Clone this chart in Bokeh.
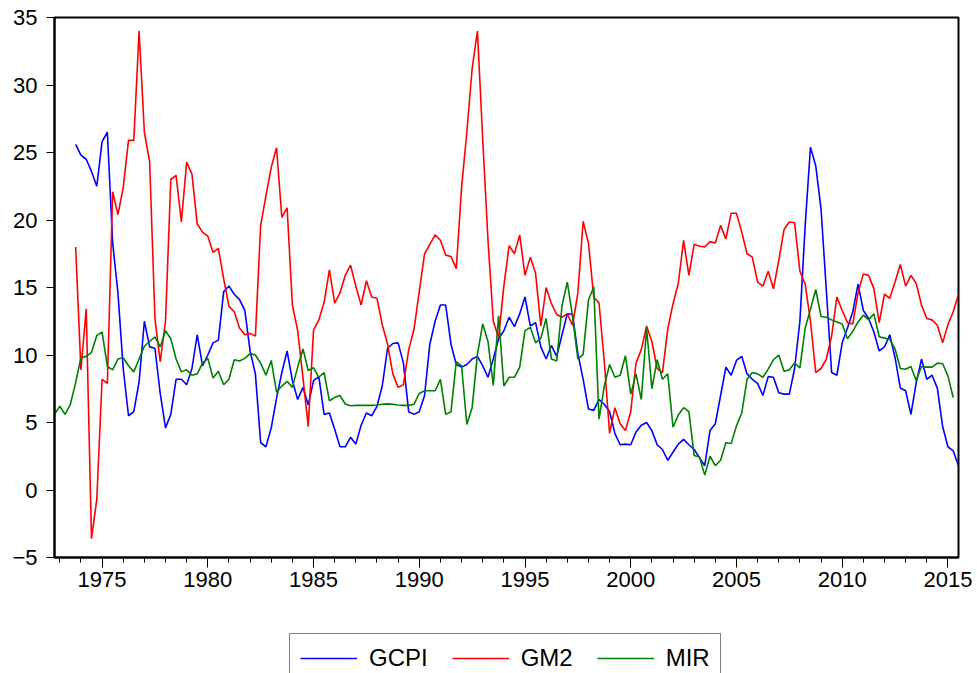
import pandas as pd
from bokeh.plotting import figure
from bokeh.layouts import column
from bokeh.models import Range1d, FixedTicker, Legend, LegendItem, ColumnDataSource
from bokeh.embed import file_html
from bokeh.resources import INLINE

# Quarterly observations, 1972Q4 .. 2015Q3
periods = pd.period_range("1972Q4", "2015Q3", freq="Q")
year_pos = [p.year + (p.quarter - 1) / 4 for p in periods]

# GCPI: 1973Q4 .. 2015Q3
gcpi = [
    25.6, 24.8, 24.5, 23.6, 22.5, 25.8, 26.5, 18.3, 14.6, 9.0,
    5.5, 5.8, 8.0, 12.5, 10.6, 10.5, 7.15, 4.6, 5.6, 8.2,
    8.2, 7.8, 9.0, 11.5, 9.2, 10.0, 10.9, 11.1, 14.7, 15.1,
    14.5, 14.1, 13.3, 10.3, 8.6, 3.5, 3.2, 4.6, 6.8, 8.7,
    10.3, 8.1, 6.7, 7.6, 6.3, 8.1, 8.4, 5.6, 5.7, 4.5,
    3.2, 3.2, 3.9, 3.4, 4.8, 5.7, 5.5, 6.2, 7.7, 10.5,
    10.85, 10.9, 9.4, 5.8, 5.6, 5.8, 7.0, 10.8, 12.5, 13.7,
    13.7, 10.8, 9.3, 9.1, 9.3, 9.7, 9.9, 9.2, 8.35, 9.7,
    11.2, 11.8, 12.8, 12.1, 13.05, 14.3, 12.15, 12.4, 10.6, 9.7,
    10.7, 9.9, 11.5, 13.05, 13.0, 10.1, 8.2, 6.0, 5.9, 6.7,
    6.35, 5.8, 4.2, 3.35, 3.4, 3.35, 4.3, 4.8, 5.0, 4.4,
    3.35, 3.0, 2.2, 2.8, 3.4, 3.75, 3.35, 3.0, 2.4, 1.8,
    4.4, 4.9, 7.0, 9.1, 8.5, 9.6, 9.9, 8.6, 8.2, 7.9,
    7.0, 8.4, 8.35, 7.2, 7.1, 7.1, 9.0, 12.5, 19.6, 25.4,
    24.0, 20.8, 14.8, 8.7, 8.5, 10.9, 12.0, 13.2, 15.25, 13.3,
    12.7, 11.7, 10.3, 10.6, 11.5, 9.8, 7.55, 7.35, 5.6, 7.95,
    9.7, 8.2, 8.5, 7.55, 4.7, 3.2, 2.9, 1.8,
]

# GM2: 1973Q4 .. 2015Q3
gm2 = [
    18.0, 8.9, 13.4, -3.6, -0.7, 8.2, 7.9, 22.1, 20.4, 22.4,
    25.9, 25.9, 34.0, 26.5, 24.3, 12.7, 9.5, 12.5, 23.0, 23.3,
    19.85, 24.3, 23.4, 19.7, 19.1, 18.8, 17.6, 17.9, 15.65, 13.6,
    13.2, 12.0, 11.5, 11.6, 11.4, 19.6, 21.8, 23.9, 25.35, 20.2,
    20.9, 13.7, 11.8, 8.3, 4.7, 11.85, 12.6, 13.9, 16.3, 13.85,
    14.6, 15.9, 16.65, 15.1, 13.7, 15.5, 14.3, 14.2, 12.25, 10.8,
    8.6, 7.6, 7.8, 10.4, 11.9, 14.7, 17.5, 18.2, 18.9, 18.5,
    17.4, 17.3, 16.4, 22.4, 26.5, 31.2, 34.0, 26.0, 18.5, 12.5,
    11.3, 15.1, 18.1, 17.5, 18.9, 15.9, 17.25, 16.05, 12.15, 15.0,
    13.8, 13.0, 12.8, 13.05, 12.2, 14.6, 19.9, 18.3, 14.3, 13.85,
    9.5, 4.2, 6.1, 4.9, 4.4, 5.8, 9.4, 10.4, 12.15, 11.0,
    9.0, 8.7, 11.9, 13.8, 15.3, 18.5, 15.9, 18.2, 18.05, 18.0,
    18.4, 18.3, 19.6, 18.6, 20.5, 20.5, 19.1, 17.5, 17.25, 15.4,
    15.1, 16.2, 14.9, 17.0, 19.3, 19.85, 19.8, 16.2, 15.25, 12.5,
    8.7, 9.0, 9.7, 11.4, 14.3, 13.3, 12.4, 12.3, 14.6, 16.0,
    15.9, 14.9, 12.4, 14.5, 14.2, 15.4, 16.7, 15.1, 15.9, 15.3,
    13.7, 12.7, 12.6, 12.2, 10.9, 12.25, 13.2, 14.5,
]

# MIR: 1972Q4 .. 2015Q2
mir = [
    5.6, 6.2, 5.6, 6.35, 7.95, 9.8, 9.9, 10.2, 11.45, 11.7,
    9.15, 8.9, 9.7, 9.8, 9.2, 8.75, 9.7, 10.65, 11.0, 11.35,
    10.6, 11.8, 11.2, 9.7, 8.75, 8.9, 8.5, 8.6, 9.4, 9.75,
    8.3, 8.8, 7.8, 8.2, 9.65, 9.55, 9.75, 10.1, 10.0, 9.4,
    8.5, 9.6, 7.25, 7.7, 8.05, 7.6, 9.1, 10.45, 8.85, 9.05,
    8.35, 8.7, 6.6, 6.85, 7.0, 6.37, 6.24, 6.27, 6.27, 6.27,
    6.27, 6.3, 6.35, 6.38, 6.35, 6.3, 6.27, 6.27, 6.35, 7.15,
    7.35, 7.35, 7.35, 8.2, 5.6, 5.8, 9.5, 9.2, 4.85, 6.1,
    10.05, 12.3, 11.0, 7.75, 12.9, 7.7, 8.35, 8.35, 9.1, 11.8,
    12.05, 10.9, 11.25, 12.7, 9.7, 9.55, 13.65, 15.4, 12.85, 9.7,
    10.05, 14.05, 15.05, 5.25, 7.7, 9.3, 8.35, 8.5, 9.95, 7.1,
    8.6, 6.7, 12.0, 7.5, 9.65, 8.2, 8.6, 4.65, 5.55, 6.1,
    5.8, 2.55, 2.45, 1.1, 2.5, 1.8, 2.2, 3.5, 3.45, 4.75,
    5.7, 8.2, 8.7, 8.6, 8.35, 8.95, 9.65, 10.0, 8.8, 8.9,
    9.4, 9.05, 12.0, 13.4, 14.85, 12.85, 12.8, 12.6, 12.45, 12.3,
    11.2, 11.75, 12.45, 12.95, 12.6, 13.05, 11.35, 11.25, 11.15, 10.45,
    9.0, 8.95, 9.15, 8.1, 9.15, 9.1, 9.1, 9.4, 9.35, 8.45, 6.85,
]

series_names = ["GCPI", "GM2", "MIR"]
series_colors = ["#0000FF", "#FF0000", "#008000"]
y_ticks = [-5, 0, 5, 10, 15, 20, 25, 30, 35]
x_major = [1975, 1980, 1985, 1990, 1995, 2000, 2005, 2010, 2015]
x_minor = list(range(1973, 2016))

FONT = "Liberation Sans"
LW = 1.6

p = figure(width=977, height=625, output_backend="svg", toolbar_location=None,
           x_range=Range1d(year_pos[0], year_pos[-1]), y_range=Range1d(-5, 35),
           min_border_left=54, min_border_right=19, min_border_top=17, min_border_bottom=68)
p.background_fill_color = "white"
p.border_fill_color = "white"
p.outline_line_color = "black"
p.outline_line_width = 2
p.xgrid.visible = False
p.ygrid.visible = False

sources = [
    ColumnDataSource(dict(x=year_pos[len(year_pos) - len(gcpi):], y=gcpi)),
    ColumnDataSource(dict(x=year_pos[len(year_pos) - len(gm2):], y=gm2)),
    ColumnDataSource(dict(x=year_pos[:len(mir)], y=mir)),
]
for src, col in zip(sources, series_colors):
    p.line("x", "y", source=src, line_color=col, line_width=LW)

for ax in (p.xaxis[0], p.yaxis[0]):
    ax.axis_line_color = "black"
    ax.axis_line_width = 2
    ax.major_tick_line_color = "black"
    ax.minor_tick_line_color = "black"
    ax.major_tick_in = 0
    ax.minor_tick_in = 0
    ax.major_label_text_font = FONT
    ax.major_label_text_font_size = "22px"
    ax.major_label_text_color = "black"

p.xaxis.ticker = FixedTicker(ticks=x_major, minor_ticks=x_minor)
p.xaxis.major_tick_out = 10
p.xaxis.minor_tick_out = 5
p.xaxis.major_label_standoff = 4

p.yaxis.ticker = FixedTicker(ticks=y_ticks)
p.yaxis.major_tick_out = 8
p.yaxis.minor_tick_line_color = None
p.yaxis.major_label_standoff = 9

# Legend strip below the chart (series drawn out of view; only the legend shows)
lg = figure(width=977, height=48, output_backend="svg", toolbar_location=None,
            x_range=Range1d(0, 1), y_range=Range1d(-100, -99),
            x_axis_location=None, y_axis_location=None,
            min_border_left=0, min_border_right=0, min_border_top=0, min_border_bottom=0)
lg.grid.visible = False
lg.outline_line_color = None
lg.background_fill_color = "white"
lg.border_fill_color = "white"

items = []
for name, src, col in zip(series_names, sources, series_colors):
    r = lg.line("x", "y", source=src, line_color=col, line_width=LW)
    items.append(LegendItem(label=name, renderers=[r]))

legend = Legend(items=items, orientation="horizontal", location=(235, -10),
                label_text_font=FONT, label_text_font_size="24px",
                label_text_color="black",
                glyph_width=57, glyph_height=20, label_standoff=12,
                spacing=24, padding=10, margin=0,
                border_line_color="black", border_line_width=1.2,
                background_fill_color="white", background_fill_alpha=1.0)
lg.add_layout(legend, "center")

layout = column(p, lg, spacing=0)
open("out.html", "w").write(file_html(layout, INLINE))
